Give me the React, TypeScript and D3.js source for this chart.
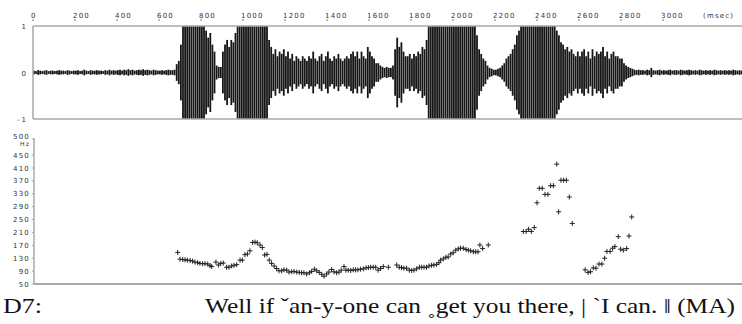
import React from 'react';
import * as d3 from 'd3';

const width = 742;
const height = 324;

// time axis tick labels (msec)
const timeTicks = [0, 200, 400, 600, 800, 1000, 1200, 1400, 1600, 1800, 2000, 2200, 2400, 2600, 2800, 3000];
const ampTicks = [1, 0, -1];
const hzTicks = [50, 90, 130, 170, 210, 250, 290, 330, 370, 410, 450, 500];

// waveform envelope, one value per 10 msec (1 = full scale)
const waveStep = 10;
const waveAmp = [
  0.04, 0.03, 0.05, 0.04, 0.03, 0.04, 0.05, 0.03, 0.04, 0.04,
  0.03, 0.04, 0.05, 0.04, 0.04, 0.03, 0.05, 0.04, 0.03, 0.04,
  0.04, 0.05, 0.03, 0.04, 0.06, 0.04, 0.03, 0.05, 0.04, 0.04,
  0.05, 0.04, 0.04, 0.03, 0.05, 0.04, 0.06, 0.04, 0.05, 0.04,
  0.05, 0.06, 0.04, 0.06, 0.05, 0.07, 0.05, 0.06, 0.04, 0.05,
  0.06, 0.05, 0.07, 0.05, 0.06, 0.05, 0.04, 0.06, 0.05, 0.04,
  0.04, 0.05, 0.04, 0.05, 0.06, 0.05, 0.05, 0.06, 0.18, 0.25,
  0.6, 1, 1, 1, 1, 1, 1, 1, 1, 1,
  1, 1, 0.9, 0.75, 0.85, 0.6, 0.45, 0.15, 0.12, 0.12,
  0.45, 0.6, 0.7, 0.55, 0.7, 0.65, 0.85, 1, 1, 1,
  1, 1, 1, 1, 1, 1, 1, 1, 1, 1,
  1, 1, 0.7, 0.55, 0.4, 0.5, 0.35, 0.45, 0.4, 0.5,
  0.35, 0.45, 0.3, 0.4, 0.25, 0.35, 0.3, 0.25, 0.35, 0.3,
  0.25, 0.35, 0.3, 0.45, 0.3, 0.25, 0.35, 0.4, 0.25, 0.35,
  0.45, 0.3, 0.25, 0.35, 0.3, 0.4, 0.3, 0.25, 0.3, 0.35,
  0.3, 0.4, 0.45, 0.35, 0.45, 0.3, 0.45, 0.35, 0.3, 0.55,
  0.45, 0.35, 0.3, 0.2, 0.2, 0.15, 0.12, 0.1, 0.12, 0.1,
  0.1, 0.15, 0.5, 0.75, 0.55, 0.65, 0.45, 0.35, 0.35, 0.4,
  0.3, 0.4, 0.35, 0.45, 0.4, 0.55, 0.5, 0.7, 1, 1,
  1, 1, 1, 1, 1, 1, 1, 1, 1, 1,
  1, 1, 1, 1, 1, 1, 1, 1, 1, 1,
  1, 0.8, 0.5, 0.4, 0.3, 0.25, 0.15, 0.1, 0.08, 0.06,
  0.06, 0.08, 0.1, 0.15, 0.2, 0.3, 0.35, 0.4, 0.5, 0.6,
  0.8, 0.9, 1, 1, 1, 1, 1, 1, 1, 1,
  1, 1, 1, 1, 1, 1, 1, 1, 1, 0.9,
  0.8, 0.65, 0.6, 0.5, 0.55, 0.45, 0.5, 0.4, 0.35, 0.45,
  0.35, 0.45, 0.5, 0.35, 0.45, 0.3, 0.5, 0.35, 0.45, 0.4,
  0.45, 0.55, 0.35, 0.45, 0.3, 0.4, 0.45, 0.35, 0.35, 0.3,
  0.3, 0.2, 0.15, 0.12, 0.1, 0.08, 0.06, 0.05, 0.06, 0.05,
  0.05, 0.04, 0.06, 0.05, 0.1, 0.05, 0.04, 0.05, 0.06, 0.04,
  0.05, 0.04, 0.05, 0.06, 0.04, 0.05, 0.05, 0.04, 0.06, 0.05,
  0.04, 0.05, 0.06, 0.05, 0.04, 0.05, 0.04, 0.06, 0.05, 0.04,
  0.05, 0.04, 0.05, 0.04, 0.06, 0.05, 0.04, 0.05, 0.04, 0.05,
  0.04, 0.05, 0.04, 0.06, 0.05, 0.04, 0.05, 0.04,
];

// F0 track (msec, Hz)
const pitchMs = [
  689, 700, 713, 724, 735, 748, 760, 771, 784, 795, 808, 819, 832, 843, 851,
  871, 883, 894, 906, 922, 933, 946, 957, 970, 986, 997, 1009, 1021, 1033,
  1046, 1057, 1068, 1081, 1092, 1103, 1114, 1125, 1136, 1148, 1160, 1171,
  1184, 1195, 1208, 1219, 1232, 1243, 1256, 1268, 1279, 1290, 1303, 1316,
  1327, 1340, 1351, 1363, 1375, 1386, 1398, 1409, 1422, 1433, 1446, 1457,
  1468, 1481, 1490, 1501, 1513, 1525, 1536, 1547, 1560, 1573, 1586, 1597,
  1608, 1620, 1632, 1643, 1655, 1668, 1692, 1732, 1744, 1755, 1766, 1779,
  1792, 1803, 1814, 1827, 1840, 1851, 1862, 1874, 1886, 1898, 1909, 1922,
  1933, 1941, 1954, 1966, 1977, 1989, 2001, 2013, 2025, 2036, 2049, 2062,
  2073, 2084, 2097, 2108, 2119, 2128, 2141, 2168,
  2335, 2348, 2360, 2373, 2387, 2400, 2411, 2425, 2438, 2452, 2465, 2478,
  2494, 2503, 2514, 2527, 2540, 2554, 2568,
  2629, 2643, 2655, 2668, 2681, 2695, 2709, 2722, 2733, 2748, 2760, 2771,
  2787, 2798, 2811, 2827, 2838, 2851,
];
const pitchHz = [
  148, 127, 126, 125, 124, 123, 121, 118, 116, 114, 113, 113, 112, 107, 104,
  118, 109, 114, 115, 102, 102, 106, 108, 110, 124, 124, 141, 143, 153,
  179, 180, 178, 171, 163, 140, 142, 124, 114, 106, 98, 91,
  91, 94, 93, 87, 88, 89, 87, 86, 85, 85, 81, 85,
  89, 96, 91, 86, 80, 74, 81, 87, 95, 88, 85, 87,
  93, 104, 93, 93, 92, 94, 94, 94, 96, 97, 100, 101,
  102, 102, 102, 93, 98, 104, 102, 109, 102, 101, 99, 99,
  93, 92, 93, 97, 102, 102, 102, 102, 106, 108, 109, 111,
  116, 124, 128, 133, 134, 143, 147, 155, 159, 161, 161, 157,
  155, 153, 150, 150, 150, 171, 160, 171,
  213, 213, 220, 213, 225, 302, 347, 347, 328, 328, 355, 355,
  422, 274, 372, 372, 372, 320, 238,
  94, 86, 88, 100, 99, 112, 112, 130, 151, 151, 161, 166,
  197, 158, 155, 160, 199, 258,
];

const x = d3.scaleLinear().domain([0, 3000]).range([33, 663]);
const yAmp = d3.scaleLinear().domain([-1, 1]).range([119, 26]);
const yHz = d3.scaleLinear().domain([50, 500]).range([284, 139]);

const axisColor = '#a8a8a8';
const labelFont = { fontFamily: 'DejaVu Sans', fontSize: 7, letterSpacing: 1.2, fill: '#333' };

export default function App() {
  const binW = x(waveStep) - x(0);
  const cross = d3.range(pitchMs.length).map(i => {
    const cx = x(pitchMs[i]);
    const cy = yHz(pitchHz[i]);
    return `M${cx - 2.5},${cy}h5M${cx},${cy - 2.5}v5`;
  }).join('');

  return (
    <svg width={width} height={height} style={{ position: 'absolute', left: 0, top: 0, background: '#fff' }}>
      {/* time axis */}
      {timeTicks.map(t => (
        <g key={t}>
          <text x={x(t) - 2} y={18} {...labelFont}>{t}</text>
          <line x1={x(t)} x2={x(t)} y1={19} y2={21} stroke="#555" strokeWidth={0.8} />
        </g>
      ))}
      <text x={703} y={18} {...labelFont}>(msec)</text>

      {/* waveform */}
      <g fill="#161616">
        {waveAmp.map((a, i) => {
          const v = Math.min(a, 1);
          return (
            <rect key={i} x={x(i * waveStep)} width={binW - 0.3}
              y={yAmp(v)} height={yAmp(-v) - yAmp(v)} />
          );
        })}
      </g>
      <line x1={33} x2={width} y1={26} y2={26} stroke={axisColor} strokeWidth={1.5} />
      <line x1={33} x2={width} y1={119} y2={119} stroke={axisColor} strokeWidth={1.5} />
      <line x1={33} x2={33} y1={26} y2={119} stroke={axisColor} strokeWidth={1.5} />
      {ampTicks.map(a => (
        <text key={a} x={28} y={yAmp(a) + 3} textAnchor="end" {...labelFont} letterSpacing={2}>{a}</text>
      ))}

      {/* pitch panel */}
      <line x1={34} x2={34} y1={138} y2={284} stroke={axisColor} strokeWidth={1.5} />
      <line x1={34} x2={width} y1={284} y2={284} stroke={axisColor} strokeWidth={2} />
      {hzTicks.map(h => (
        <g key={h}>
          <line x1={32} x2={34} y1={yHz(h)} y2={yHz(h)} stroke={axisColor} strokeWidth={1} />
          <text x={30} y={h === 500 ? yHz(h) : yHz(h) + 2.5} textAnchor="end" {...labelFont}>{h}</text>
        </g>
      ))}
      <text x={30} y={yHz(500) + 7} textAnchor="end" {...labelFont} fontSize={6}>Hz</text>
      <path d={cross} stroke="#222" strokeWidth={1} fill="none" />

      {/* transcription */}
      <text x={3} y={313} fontFamily="Liberation Serif" fontSize={22} fill="#111"
        textLength={39} lengthAdjust="spacingAndGlyphs">D7:</text>
      <text x={205} y={313} fontFamily="Liberation Serif" fontSize={22} fill="#111"
        textLength={530} lengthAdjust="spacingAndGlyphs">
        Well if ˇan-y-one can ˳get you there, | ˋI can. ‖ (MA)
      </text>
    </svg>
  );
}
